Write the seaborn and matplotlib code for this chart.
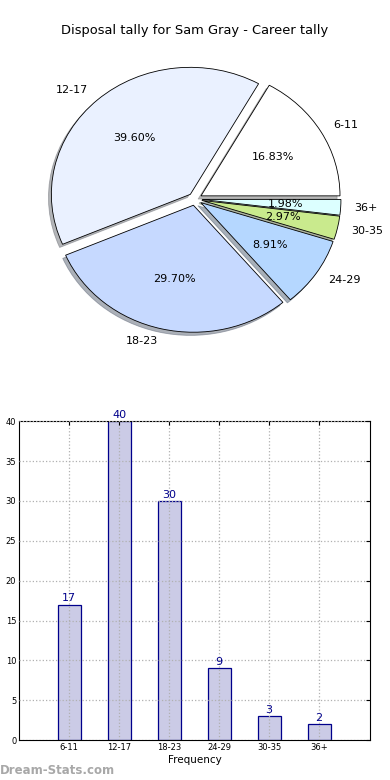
import matplotlib
matplotlib.use('Agg')
import matplotlib.pyplot as plt
import seaborn as sns
import pandas as pd

# Data
categories = ['6-11', '12-17', '18-23', '24-29', '30-35', '36+']
counts = [17, 40, 30, 9, 3, 2]
pie_colors = ['#ffffff', '#eaf1ff', '#c6d9ff', '#b5d7ff', '#c9ea8d', '#dcffff']
title = 'Disposal tally for Sam Gray - Career tally'

sns.set_style('white')
plt.rcParams['font.family'] = ['DejaVu Sans']
plt.rcParams['text.color'] = 'black'
plt.rcParams['axes.labelcolor'] = 'black'
plt.rcParams['xtick.color'] = 'black'
plt.rcParams['ytick.color'] = 'black'

fig = plt.figure(figsize=(3.9, 7.8), dpi=100)

# Pie chart (old-style, stretched to the axes box)
ax_pie = fig.add_axes([0.0545, 0.5413, 0.891, 0.407])
wedges, texts, autotexts = ax_pie.pie(
    counts, labels=categories, colors=pie_colors, explode=[0.05] * len(counts),
    autopct='%1.2f%%', shadow={'ox': -0.015, 'oy': -0.018, 'shade': 0.55},
    startangle=0,
    wedgeprops={'edgecolor': 'black', 'linewidth': 0.6},
    textprops={'fontsize': 8, 'color': 'black'})
ax_pie.set_aspect('auto')
ax_pie.set_xlim(-1.25, 1.25)
ax_pie.set_ylim(-1.25, 1.25)
fig.text(0.5, 0.961, title, ha='center', va='center', fontsize=9.35, color='black')

# Bar chart
df = pd.DataFrame({'range': categories, 'count': counts})
ax = fig.add_axes([0.049, 0.051, 0.9, 0.409])
sns.barplot(data=df, x='range', y='count', ax=ax, width=0.46,
            color='#cbcbe6', edgecolor='#00008b', linewidth=0.9, saturation=1)
ax.bar_label(ax.containers[0], color='#00008b', fontsize=8, padding=1)
ax.set_xlim(-1, 6.02)
ax.set_ylim(0, 40)
ax.set_yticks(range(0, 41, 5))
ax.set_xlabel('Frequency', fontsize=7.5, labelpad=2.5)
ax.set_ylabel('')
ax.grid(True, linestyle=':', color='#b0b0b0', linewidth=0.9)
ax.set_axisbelow(False)
ax.tick_params(labelsize=6, direction='in', length=3, top=True, right=True, pad=2)
for s in ax.spines.values():
    s.set_color('black')
    s.set_linewidth(0.8)

fig.text(0.0, 0.004, 'Dream-Stats.com', color='#a8a8a8', fontsize=8.5,
         fontweight='bold', ha='left', va='bottom')

fig.savefig('out.png', dpi=100)
